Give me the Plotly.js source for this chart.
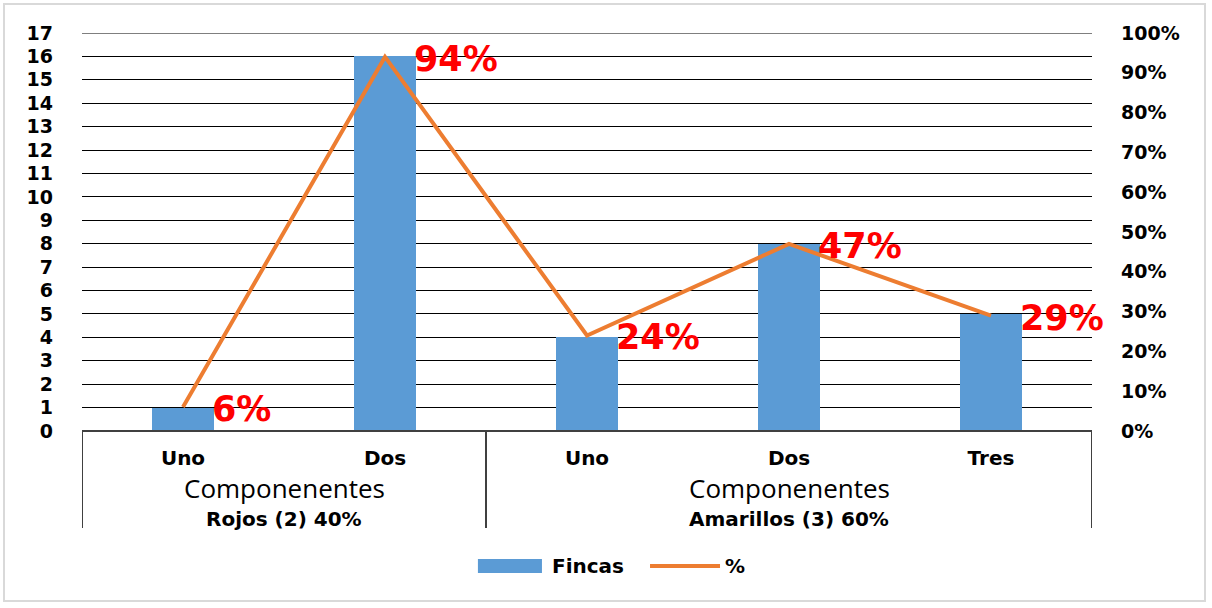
<!DOCTYPE html>
<html>
<head>
<meta charset="utf-8">
<script src="https://cdn.plot.ly/plotly-3.0.1.min.js"></script>
<style>
html,body{margin:0;padding:0;background:#fff;}
#frame{position:absolute;left:3px;top:3px;width:1203px;height:599px;border:2px solid #d9d9d9;box-sizing:border-box;}
#chart{position:absolute;left:0;top:0;width:1212px;height:608px;}
</style>
</head>
<body>
<div id="frame"></div>
<div id="chart"></div>
<script>
var categories = ["Uno", "Dos", "Uno", "Dos", "Tres"];
var groups = ["Rojos (2) 40%", "Amarillos (3) 60%"];
var groupSizes = [2, 3];
var groupTitle = "Componenentes";
var fincas = [1, 16, 4, 8, 5];
var pct = [0.06, 0.94, 0.24, 0.47, 0.29];
var pctLabels = ["6%", "94%", "24%", "47%", "29%"];
var leftTicks = [0,1,2,3,4,5,6,7,8,9,10,11,12,13,14,15,16,17];
var seriesNames = ["Fincas", "%"];

var BAR = '#5B9BD5', LINE = '#ED7D31';
var idx = categories.map(function(_, i){ return i; });
var boldFont = function(s){ return {family: 'DejaVu Sans', size: s, color: '#000', weight: 'bold'}; };

var traces = [
  {
    type: 'bar', name: seriesNames[0], x: idx, y: fincas,
    marker: {color: BAR}, width: 0.31, yaxis: 'y'
  },
  {
    type: 'scatter', mode: 'lines', name: seriesNames[1], x: idx, y: pct,
    line: {color: LINE, width: 4}, yaxis: 'y2'
  }
];

var annotations = [];
var shapes = [];
pct.forEach(function(v, i){
  annotations.push({
    x: idx[i], y: v, xref: 'x', yref: 'y2', text: pctLabels[i],
    showarrow: false, xanchor: 'left', yanchor: 'middle', xshift: 27, yshift: -2,
    font: {family: 'DejaVu Sans', size: 35, color: '#FF0000', weight: 'bold'}
  });
});

// top gridline (at the range edge)
shapes.push({type: 'line', xref: 'paper', yref: 'y', x0: 0, x1: 1,
  y0: leftTicks[leftTicks.length - 1], y1: leftTicks[leftTicks.length - 1],
  line: {color: '#000000', width: 1}});

// group boxes
var start = -0.5;
var bounds = [start];
groupSizes.forEach(function(n, g){
  var end = start + n;
  annotations.push({
    x: (start + end) / 2, y: 0, xref: 'x', yref: 'paper', yshift: -57,
    text: groupTitle, showarrow: false, yanchor: 'middle',
    font: {family: 'Open Sans', size: 26, color: '#000000'}
  });
  annotations.push({
    x: (start + end) / 2, y: 0, xref: 'x', yref: 'paper', yshift: -88,
    text: groups[g], showarrow: false, yanchor: 'middle',
    font: boldFont(20)
  });
  start = end;
  bounds.push(end);
});
bounds.forEach(function(b){
  shapes.push({type: 'line', xref: 'x', yref: 'paper', x0: b, x1: b, y0: 0, y1: -0.244,
    line: {color: '#404040', width: 2}});
});
shapes.push({type: 'line', xref: 'paper', yref: 'paper', x0: 0, x1: 1, y0: 0, y1: 0,
  line: {color: '#404040', width: 2}});

// custom legend
shapes.push({type: 'rect', xref: 'paper', yref: 'paper', x0: 0.392, x1: 0.4554, y0: -0.3568, y1: -0.3216,
  fillcolor: BAR, line: {width: 0}});
annotations.push({x: 0.4634, y: -0.339, xref: 'paper', yref: 'paper', text: seriesNames[0],
  showarrow: false, xanchor: 'left', yanchor: 'middle', font: boldFont(20)});
shapes.push({type: 'line', xref: 'paper', yref: 'paper', x0: 0.5624, x1: 0.6317, y0: -0.3392, y1: -0.3392,
  line: {color: LINE, width: 4}});
annotations.push({x: 0.6347, y: -0.339, xref: 'paper', yref: 'paper', text: seriesNames[1],
  showarrow: false, xanchor: 'left', yanchor: 'middle', font: boldFont(20)});

var layout = {
  width: 1212, height: 608,
  margin: {l: 82, r: 120, t: 33, b: 177},
  paper_bgcolor: 'rgba(0,0,0,0)', plot_bgcolor: 'rgba(0,0,0,0)',
  showlegend: false,
  xaxis: {
    range: [-0.5, 4.5], tickmode: 'array', tickvals: idx, ticktext: categories,
    showgrid: false, zeroline: false, showline: false, ticks: '',
    tickfont: boldFont(20),
    ticklabelstandoff: 13, fixedrange: true
  },
  yaxis: {
    range: [0, 17], tickmode: 'array', tickvals: leftTicks, ticktext: leftTicks.map(String),
    showgrid: true, gridcolor: '#000000', gridwidth: 1, zeroline: false, showline: false,
    ticks: '', ticklabelstandoff: 28,
    tickfont: boldFont(19)
  },
  yaxis2: {
    range: [0, 1], overlaying: 'y', side: 'right', tickformat: '.0%', dtick: 0.1, tick0: 0,
    showgrid: false, zeroline: false, showline: false, ticks: '', ticklabelstandoff: 28,
    tickfont: boldFont(19)
  },
  annotations: annotations,
  shapes: shapes,
  bargap: 0
};

Plotly.newPlot('chart', traces, layout, {displayModeBar: false, staticPlot: true});
</script>
</body>
</html>
